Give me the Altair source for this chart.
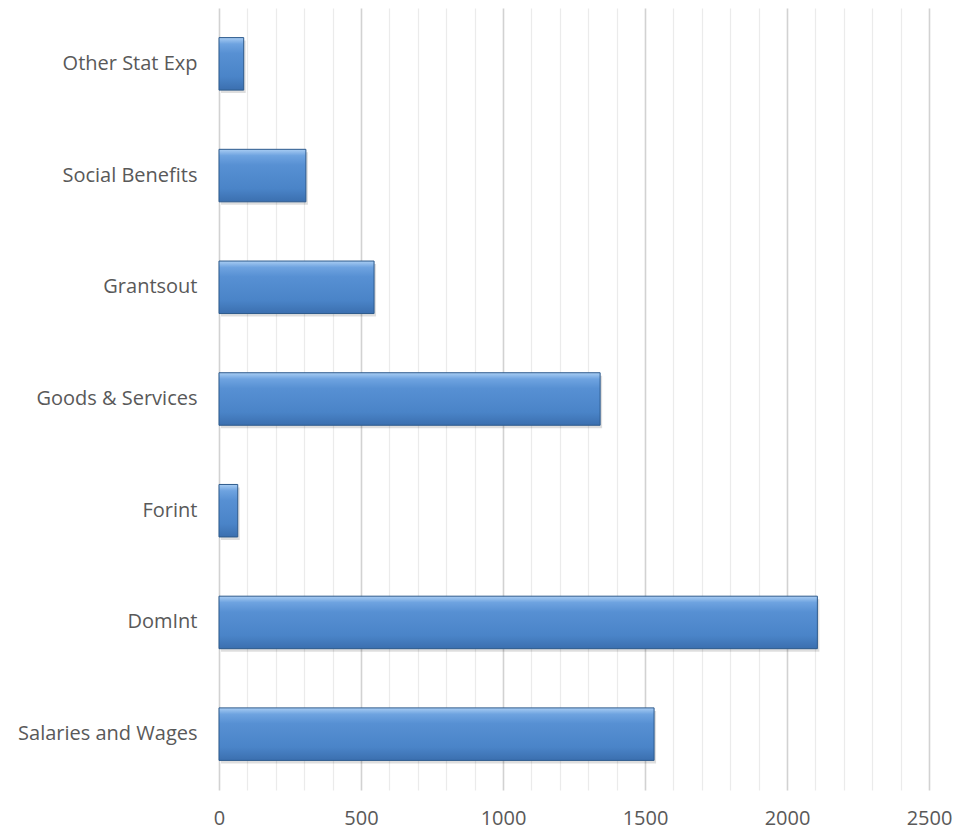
import altair as alt
import pandas as pd

categories = ["Other Stat Exp", "Social Benefits", "Grantsout", "Goods & Services",
              "Forint", "DomInt", "Salaries and Wages"]
values = [87, 306, 546, 1342, 66, 2107, 1532]

df = pd.DataFrame({"category": categories, "value": values})

FONT = "Open Sans"
LABEL_COLOR = "#595959"

y_enc = alt.Y("category:N", sort=categories, title=None,
              scale=alt.Scale(paddingInner=0.53, paddingOuter=0.265),
              axis=alt.Axis(domain=False, ticks=False, labelFont=FONT, labelFontSize=20,
                            labelLimit=400,
                            labelColor=LABEL_COLOR, labelPadding=22, grid=False))

x_scale = alt.Scale(domain=[0, 2500], nice=False)

x_axis = alt.Axis(
    values=list(range(0, 2600, 100)),
    labelExpr="datum.value % 500 === 0 ? datum.label : ''",
    format="d",
    domain=False, ticks=False, labelFlush=False, labelOverlap=False,
    labelFont=FONT, labelFontSize=20, labelColor=LABEL_COLOR, labelPadding=18,
    gridColor={"condition": {"test": "datum.value % 500 === 0", "value": "#d2d2d2"}, "value": "#ebebeb"},
    gridWidth={"condition": {"test": "datum.value % 500 === 0", "value": 1.6}, "value": 1.2},
    title=None,
)

gradient = alt.Gradient(
    gradient="linear",
    stops=[
        alt.GradientStop(color="#a9cdf3", offset=0),
        alt.GradientStop(color="#6ea3e0", offset=0.12),
        alt.GradientStop(color="#5790d3", offset=0.3),
        alt.GradientStop(color="#4a84c8", offset=0.75),
        alt.GradientStop(color="#3b6faf", offset=1),
    ],
    x1=0, x2=0, y1=0, y2=1,
)

shadow = alt.Chart(df).mark_bar(color="#000000", opacity=0.13, xOffset=2, yOffset=3).encode(
    x=alt.X("value:Q", scale=x_scale, axis=x_axis),
    y=y_enc,
)

bars = alt.Chart(df).mark_bar(fill=gradient, stroke="#2d5a8c", strokeWidth=1).encode(
    x=alt.X("value:Q", scale=x_scale, axis=x_axis),
    y=y_enc,
)

chart = alt.layer(shadow, bars).properties(
    width=710, height=782,
    autosize=alt.AutoSizeParams(type="none"),
    padding={"left": 219, "top": 8, "right": 25, "bottom": 43},
    background="white",
).configure_view(stroke=None)

chart.save("out.html", embed_options={"renderer": "svg", "actions": False})
